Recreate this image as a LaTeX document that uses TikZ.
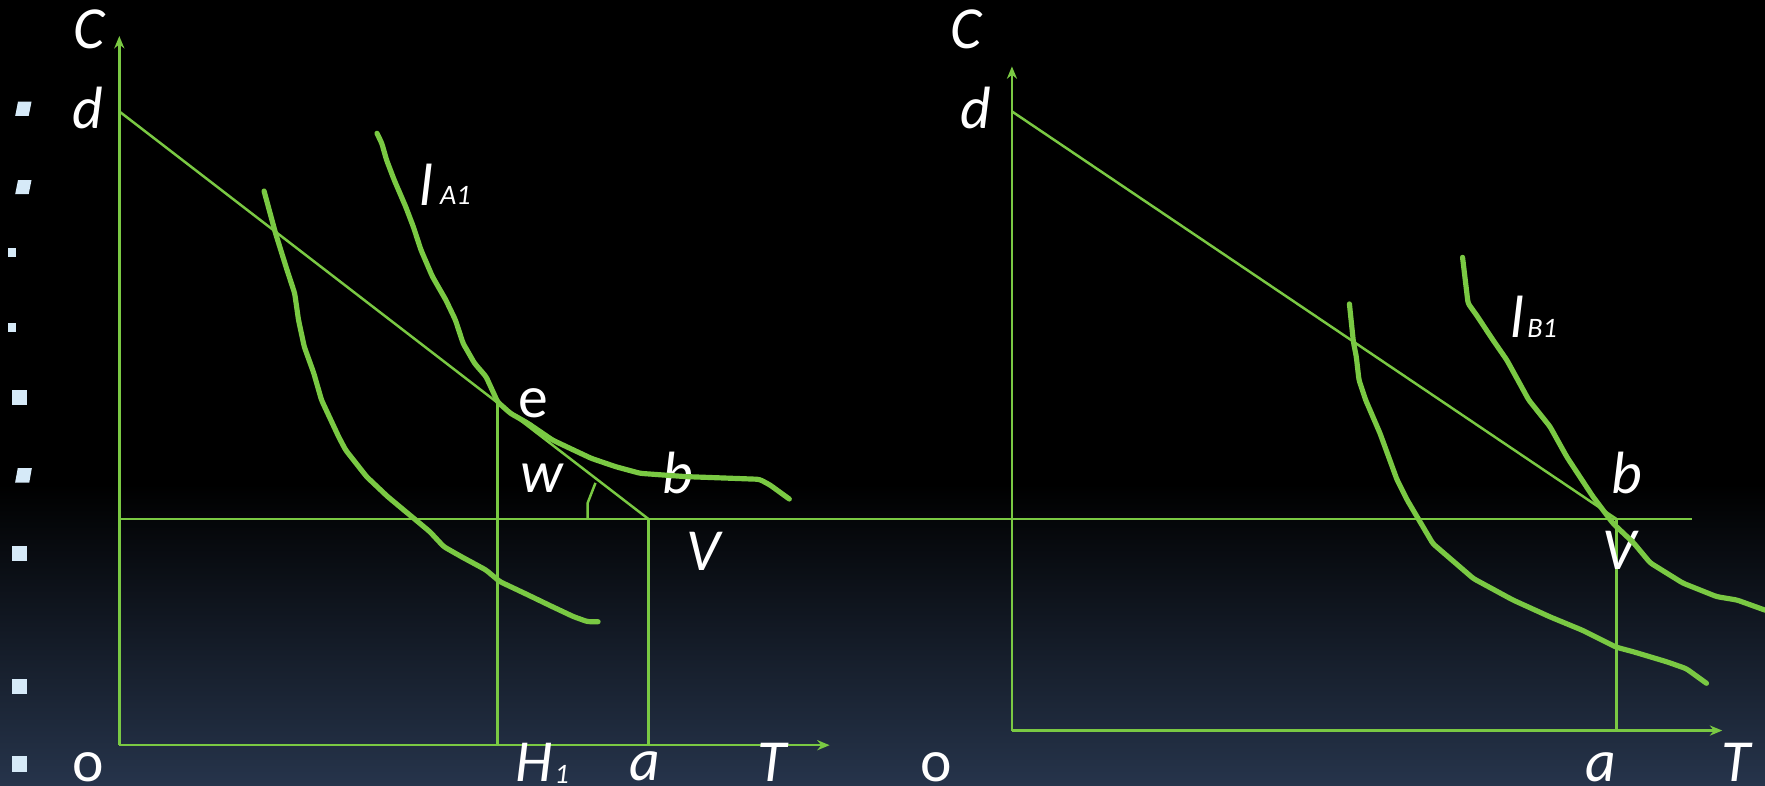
\documentclass[tikz,border=0pt]{standalone}
\usepackage{fontspec}
\setmainfont{Carlito}
\usetikzlibrary{arrows.meta}
\definecolor{lgreen}{RGB}{122,201,67}
\definecolor{bgblue}{RGB}{38,52,75}
\definecolor{bulletc}{RGB}{214,234,248}
\begin{document}
\begin{tikzpicture}[x=0.5pt,y=-0.5pt,
  thinline/.style={draw=lgreen,line width=1.1pt},
  axisline/.style={thinline,-{Stealth[length=5.5pt,width=4.5pt]}},
  curve/.style={draw=lgreen,line width=2.3pt,line join=round,line cap=round,rounded corners=1.2pt},
  lbl/.style={text=white,font=\fontsize{26.5}{30}\selectfont\itshape,inner sep=0pt},
  lblup/.style={text=white,font=\fontsize{26.5}{30}\selectfont,inner sep=0pt},
  sublbl/.style={text=white,font=\fontsize{12.5}{14}\selectfont\itshape,inner sep=0pt},
  bulletsq/.style={fill=bulletc}]
\useasboundingbox (0,0) rectangle (1568,698);
\clip (0,0) rectangle (1568,698);
% background
\fill[black] (0,0) rectangle (1568,698);
\shade[top color=black,bottom color=bgblue] (0,430) rectangle (1568,698);
% bullets
\fill[bulletsq] (16,90.3) -- (28,90.3) -- (25.5,103) -- (13.5,103) -- cycle;
\fill[bulletsq] (16,160) -- (28,160) -- (25.5,172.4) -- (13.5,172.4) -- cycle;
\fill[bulletsq] (7,220.6) rectangle (14.5,228.6);
\fill[bulletsq] (7,286.6) rectangle (14.5,294.6);
\fill[bulletsq] (11,346.5) rectangle (24,359.8);
\fill[bulletsq] (15.8,415.8) -- (28.3,415.8) -- (26,428.8) -- (13.4,428.8) -- cycle;
\fill[bulletsq] (11,485) rectangle (24,498);
\fill[bulletsq] (11,603) rectangle (24,616.5);
\fill[bulletsq] (11,672) rectangle (24,685.5);
% coordinates, left panel
\coordinate (O1) at (106,662);
\coordinate (Cy1) at (106,32);
\coordinate (Tx1) at (737,662);
\coordinate (d1) at (106,99);
\coordinate (V1) at (576,461);
\coordinate (e1) at (442,358);
\coordinate (H1) at (442,662);
\coordinate (a1) at (576,662);
\coordinate (L0) at (106,461);
\coordinate (R0) at (1503,461);
\coordinate (ang1) at (522,461);
\coordinate (ang2) at (522,447);
\coordinate (ang3) at (529,429);
% right panel
\coordinate (O2) at (899,649);
\coordinate (Cy2) at (899,59);
\coordinate (Tx2) at (1530,649);
\coordinate (d2) at (899,99);
\coordinate (V2) at (1436,461);
\coordinate (a2) at (1436,649);
% axes
\draw[axisline] (O1) -- (Cy1);
\draw[axisline] (O1) -- (Tx1);
\draw[axisline] (O2) -- (Cy2);
\draw[axisline] (O2) -- (Tx2);
% lines
\draw[thinline] (d1) -- (V1);
\draw[thinline] (L0) -- (R0);
\draw[thinline] (V1) -- (a1);
\draw[thinline] (e1) -- (H1);
\draw[thinline] (ang1) -- (ang2) -- (ang3);
\draw[thinline] (d2) -- (V2);
\draw[thinline] (V2) -- (a2);
% labels
\node[lbl] (lC1) at (79,26) {C};
\node[lbl] (ld1) at (78,96) {d};
\node[lblup] (lo1) at (78.5,682) {o};
\node[lbl] (lH) at (474.5,677) {H};
\node[sublbl] (lH1) at (499,688) {1};
\node[lbl] (la1) at (572.5,681) {a};
\node[lbl] (lT1) at (686,677) {T};
\node[lblup] (le) at (474,358) {e};
\node[lbl] (lw) at (481.5,425) {w};
\node[lbl] (lb1) at (602,420.5) {b};
\node[lbl] (lV1) at (625,490) {V};
\node[lbl] (ll1) at (379,164) {l};
\node[sublbl] (lA1) at (404.5,174) {A1};
\node[lbl] (lC2) at (858,26) {C};
\node[lbl] (ld2) at (867,96) {d};
\node[lblup] (lo2) at (832,682) {o};
\node[lbl] (la2) at (1422,682) {a};
\node[lbl] (lT2) at (1542,677) {T};
\node[lbl] (lb2) at (1445,420) {b};
\node[lbl] (lV2) at (1439,489) {V};
\node[lbl] (ll2) at (1348,281) {l};
\node[sublbl] (lB1) at (1370,291.5) {B1};
% curves
\draw[curve] (234.6,169.7) -- (244.8,207.3) -- (255,239.9) -- (261.8,260.6) -- (265.2,284.3) -- (270.3,308) -- (278.8,331.6) -- (285.6,355.3) -- (300.8,387.9) -- (307,399.7) -- (325.7,423.5) -- (344.4,441.2) -- (369.3,461.9) -- (381.8,472.3) -- (394.2,485.6) -- (409.8,494.5) -- (431.6,506.3) -- (444.1,516.7) -- (465.9,527) -- (490.8,539) -- (509.5,547.8) -- (522,552.3) -- (531.3,552.3);
\draw[curve] (334.9,118.4) -- (339.2,127.3) -- (343.4,142.1) -- (350.2,159.9) -- (360.4,183.6) -- (367.2,201.4) -- (374,222.1) -- (384.2,245.8) -- (396.1,266.5) -- (404.6,284.3) -- (411.4,305) -- (421.6,322.8) -- (431.8,334.6) -- (438.6,349.4) -- (442,357) -- (453.5,367.2) -- (469,376) -- (490.8,390.9) -- (506.4,398.3) -- (525.1,407.1) -- (547,414.6) -- (568.8,420.5) -- (609.2,423.4) -- (674.7,425.8) -- (684,430.8) -- (701.2,443.3);
\draw[curve] (1198.8,270) -- (1202.3,303.5) -- (1204.9,316.8) -- (1207.3,337.6) -- (1213.2,355.3) -- (1226,385) -- (1241,426) -- (1250,444) -- (1273,483) -- (1309,514) -- (1344,533) -- (1377,548) -- (1406,560) -- (1436,575) -- (1451,579) -- (1481,588) -- (1498,594) -- (1516,607);
\draw[curve] (1299.3,228.6) -- (1304.2,269.5) -- (1311.6,279.8) -- (1326.3,302) -- (1338.6,319.8) -- (1343.5,328.7) -- (1358.1,355.3) -- (1377,379) -- (1392,406) -- (1415,441) -- (1433,465) -- (1451,482) -- (1466,500) -- (1495,518) -- (1525,530) -- (1543,533) -- (1568,542);
\end{tikzpicture}
\end{document}
